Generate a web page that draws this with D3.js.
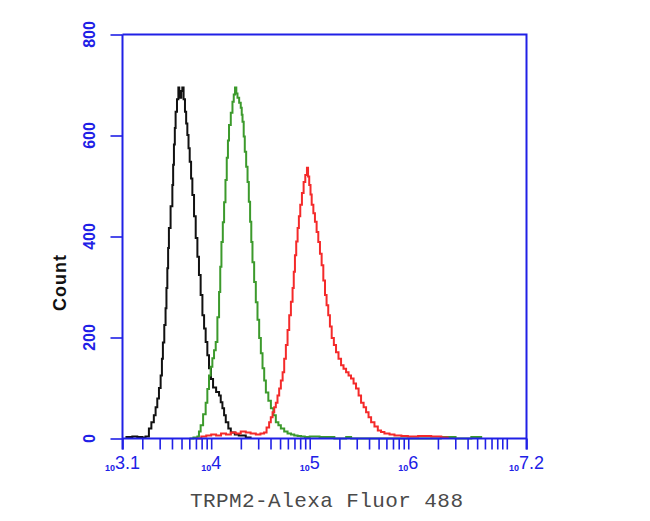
<!DOCTYPE html>
<html>
<head>
<meta charset="utf-8">
<script src="https://cdn.jsdelivr.net/npm/d3@7"></script>
<style>
  html, body { margin: 0; padding: 0; background: #ffffff; }
  svg { display: block; }
</style>
</head>
<body>
<div id="chart"></div>
<script>
// ---------- data (log10 channel, count) ----------
const blackLog = [3.13,3.2,3.25,3.3,3.334,3.368,3.393,3.418,3.436,3.453,3.47,3.487,3.5,3.51,3.524,3.537,3.546,3.555,3.563,3.571,3.588,3.606,3.614,3.622,3.631,3.639,3.653,3.667,3.676,3.685,3.696,3.707,3.72,3.734,3.746,3.758,3.77,3.782,3.796,3.809,3.826,3.843,3.86,3.876,3.893,3.911,3.928,3.944,3.961,3.978,3.998,4.019,4.05,4.08,4.097,4.114,4.131,4.148,4.174,4.199,4.24,4.28,4.351,4.4];
const blackCount = [3,4,3,2,4,20,32,46,62,79,100,125,158,190,225,258,298,337,377,417,460,502,542,582,615,647,672,695,683,675,688,695,672,647,624,601,575,548,515,482,440,397,360,324,284,244,218,191,165,139,118,101,92,85,72,60,46,32,20,12,8,6,2,0];

const greenLog = [3.78,3.82,3.86,3.876,3.893,3.918,3.944,3.961,3.978,3.995,4.012,4.029,4.046,4.063,4.08,4.092,4.104,4.118,4.131,4.145,4.158,4.17,4.181,4.199,4.216,4.229,4.242,4.255,4.267,4.284,4.3,4.31,4.318,4.33,4.341,4.355,4.369,4.382,4.395,4.407,4.419,4.436,4.453,4.47,4.487,4.504,4.521,4.538,4.555,4.58,4.606,4.631,4.656,4.682,4.707,4.741,4.775,4.81,4.843,4.877,4.911,4.95,5.0,5.1,5.2,5.25,5.37,5.42,5.5,6.33,6.48,6.64,6.74];
const greenCount = [0,2,4,14,26,48,71,98,125,142,159,175,191,240,290,340,389,428,468,512,556,590,621,645,667,681,695,683,675,665,655,641,627,598,568,538,508,469,429,389,349,310,270,235,199,169,139,115,91,75,60,46,32,26,20,14,10,8,6,5,4,3,4,3,3,0,3,0,0,3,0,3,0];

const redLog = [3.85,3.9,3.95,4.0,4.05,4.1,4.15,4.2,4.25,4.3,4.351,4.4,4.453,4.5,4.537,4.562,4.588,4.605,4.623,4.64,4.656,4.673,4.69,4.707,4.725,4.741,4.758,4.775,4.792,4.809,4.826,4.838,4.85,4.863,4.877,4.89,4.904,4.921,4.938,4.955,4.972,4.983,4.995,5.008,5.02,5.037,5.053,5.07,5.087,5.104,5.121,5.138,5.155,5.171,5.188,5.205,5.223,5.245,5.267,5.292,5.318,5.343,5.369,5.394,5.419,5.445,5.47,5.496,5.521,5.547,5.572,5.597,5.623,5.657,5.691,5.724,5.758,5.81,5.86,5.93,5.996,6.1,6.233,6.335,6.4];
const redCount = [0,4,6,8,6,10,8,12,10,14,12,10,8,10,12,22,32,42,52,62,71,85,99,115,131,158,185,215,244,271,298,330,363,390,417,440,463,486,508,522,536,519,502,483,463,446,429,409,389,366,343,313,284,264,244,222,199,185,171,158,145,138,131,125,119,109,99,85,71,62,52,42,32,24,16,13,10,8,6,5,4,5,4,2,0];

const yTicks = [0, 200, 400, 600, 800];
const xDecadeLabels = [{v: 3.1, e: "3.1"}, {v: 4, e: "4"}, {v: 5, e: "5"}, {v: 6, e: "6"}, {v: 7.2, e: "7.2"}];
const xTitle = "TRPM2-Alexa Fluor 488";
const yTitle = "Count";

// ---------- setup ----------
const W = 650, H = 521;
const blue = "#2020e6";
const svg = d3.select("#chart").append("svg").attr("width", W).attr("height", H);

const x = d3.scaleLinear().domain([3.1, 7.2]).range([122.5, 526.5]);
const y = d3.scaleLinear().domain([0, 800]).range([438.5, 34.5]);

// ---------- histogram lines ----------
const line = d3.line().x(d => x(d[0])).y(d => y(d[1])).curve(d3.curveStepAfter);
const series = [
  {log: blackLog, cnt: blackCount, color: "#111111"},
  {log: greenLog, cnt: greenCount, color: "#3c9a2c"},
  {log: redLog, cnt: redCount, color: "#f42a2a"}
];
series.forEach(s => {
  svg.append("path")
    .datum(d3.zip(s.log, s.cnt))
    .attr("d", line)
    .attr("fill", "none")
    .attr("stroke", s.color)
    .attr("stroke-width", 2);
});

// ---------- axes ----------
const xTickVals = [];
for (let dec = 3; dec <= 7; dec++) {
  for (let m = 1; m <= 9; m++) {
    const v = dec + Math.log10(m);
    if (v >= 3.1 && v <= 7.2) xTickVals.push(v);
  }
}
xTickVals.push(3.1, 7.2);

const xAxis = d3.axisBottom(x).tickValues(xTickVals).tickSize(11).tickFormat("");
const gx = svg.append("g").attr("transform", `translate(0,${y(0)})`).call(xAxis);
gx.select(".domain").attr("stroke", blue).attr("stroke-width", 2).attr("d", `M${x(3.1)},0H${x(7.2)}`);
gx.selectAll(".tick line").attr("stroke", blue).attr("stroke-width", 1.6);

const yAxis = d3.axisLeft(y).tickValues(yTicks).tickSize(12).tickFormat("");
const gy = svg.append("g").attr("transform", `translate(${x(3.1)},0)`).call(yAxis);
gy.select(".domain").attr("stroke", blue).attr("stroke-width", 2).attr("d", `M0,${y(800)}V${y(0) + 11}`);
gy.selectAll(".tick line").attr("stroke", blue).attr("stroke-width", 1.6);

// top and right frame
svg.append("path")
  .attr("d", `M${x(3.1)},${y(800)}H${x(7.2)}V${y(0) + 11}`)
  .attr("fill", "none").attr("stroke", blue).attr("stroke-width", 2);

// y tick labels (rotated)
yTicks.forEach(t => {
  svg.append("text")
    .attr("transform", `translate(95,${y(t)}) rotate(-90)`)
    .attr("text-anchor", "middle")
    .attr("font-family", "Liberation Sans, Arial, sans-serif")
    .attr("font-size", 16)
    .attr("font-weight", "bold")
    .attr("fill", blue)
    .text(t);
});

// x tick labels
xDecadeLabels.forEach(d => {
  const t = svg.append("text")
    .attr("x", x(d.v))
    .attr("y", 469)
    .attr("text-anchor", "middle")
    .attr("font-family", "Liberation Sans, Arial, sans-serif")
    .attr("fill", blue);
  t.append("tspan").attr("font-size", 9).attr("font-weight", "bold").attr("dy", 2).text("10");
  t.append("tspan").attr("font-size", 18).attr("dy", -2).text(d.e);
});

// axis titles
svg.append("text")
  .attr("x", 326.5).attr("y", 507)
  .attr("text-anchor", "middle")
  .attr("font-family", "Liberation Mono, DejaVu Sans Mono, monospace")
  .attr("font-size", 21)
  .attr("fill", "#4a4a4a")
  .attr("textLength", 273)
  .text(xTitle);

svg.append("text")
  .attr("transform", `translate(66,283) rotate(-90)`)
  .attr("text-anchor", "middle")
  .attr("font-family", "Liberation Sans, Arial, sans-serif")
  .attr("font-size", 18)
  .attr("font-weight", "bold")
  .attr("fill", "#111")
  .attr("textLength", 56)
  .text(yTitle);
</script>
</body>
</html>
